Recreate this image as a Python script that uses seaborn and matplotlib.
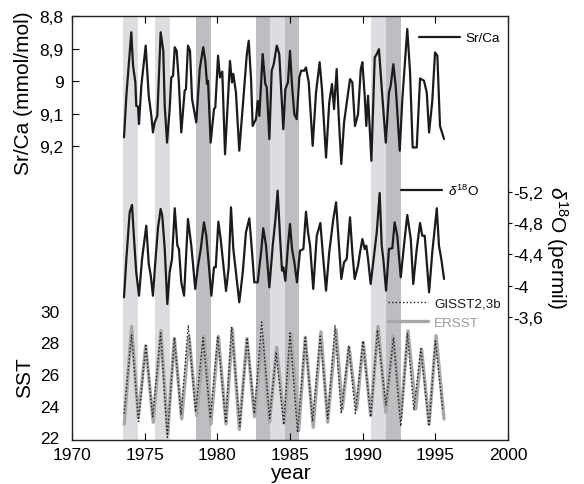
import numpy as np
import pandas as pd
import seaborn as sns
import matplotlib.pyplot as plt

# Sr/Ca record (mmol/mol)
srca_year = [1973.58, 1973.74, 1974.08, 1974.20, 1974.36, 1974.42, 1974.54, 1974.61, 1974.77, 1975.07,
             1975.28, 1975.46, 1975.57, 1975.69, 1975.87, 1976.10, 1976.28, 1976.38, 1976.54, 1976.72,
             1976.83, 1976.95, 1977.07, 1977.20, 1977.34, 1977.52, 1977.75, 1977.84, 1977.98, 1978.12,
             1978.26, 1978.55, 1978.79, 1979.03, 1979.17, 1979.29, 1979.36, 1979.54, 1979.77, 1979.86,
             1980.05, 1980.18, 1980.34, 1980.53, 1980.87, 1981.01, 1981.10, 1981.28, 1981.51, 1981.79,
             1982.02, 1982.16, 1982.32, 1982.43, 1982.66, 1982.78, 1982.89, 1983.12, 1983.30, 1983.40,
             1983.58, 1983.74, 1983.88, 1984.09, 1984.26, 1984.54, 1984.68, 1984.86, 1985.00, 1985.14,
             1985.30, 1985.46, 1985.64, 1985.76, 1985.98, 1986.10, 1986.29, 1986.56, 1986.79, 1987.04,
             1987.20, 1987.48, 1987.70, 1987.89, 1988.03, 1988.21, 1988.35, 1988.53, 1988.72, 1988.94,
             1989.13, 1989.29, 1989.47, 1989.68, 1989.87, 1989.98, 1990.14, 1990.25, 1990.37, 1990.60,
             1990.83, 1990.97, 1991.12, 1991.35, 1991.59, 1991.81, 1991.93, 1992.11, 1992.27, 1992.55,
             1992.73, 1993.07, 1993.26, 1993.44, 1993.72, 1993.95, 1994.22, 1994.41, 1994.57, 1994.79,
             1994.98, 1995.14, 1995.32, 1995.60]
srca = [9.173, 9.045, 8.850, 8.953, 9.004, 9.076, 9.078, 9.132, 9.014, 8.891,
        9.045, 9.107, 9.158, 9.127, 9.107, 8.850, 8.907, 9.076, 9.189, 9.086,
        8.989, 8.984, 8.896, 8.907, 8.994, 9.158, 9.030, 9.025, 8.891, 8.907,
        9.055, 9.127, 8.963, 8.896, 8.938, 9.009, 8.999, 9.189, 9.086, 9.081,
        8.922, 8.989, 8.971, 9.225, 8.938, 9.004, 8.978, 9.035, 9.214, 9.055,
        8.922, 8.876, 8.994, 9.138, 9.117, 9.061, 9.107, 8.917, 9.009, 9.019,
        9.178, 8.968, 8.948, 8.891, 8.917, 9.148, 9.025, 9.004, 8.907, 9.014,
        9.102, 9.117, 8.989, 8.968, 8.968, 8.958, 9.004, 9.199, 9.035, 8.942,
        9.025, 9.235, 9.066, 9.009, 9.086, 8.963, 9.107, 9.255, 9.127, 9.055,
        8.994, 9.004, 9.138, 9.102, 8.963, 8.942, 9.045, 9.138, 9.045, 9.245,
        8.927, 8.917, 8.902, 9.045, 9.189, 9.035, 9.014, 8.948, 9.014, 9.214,
        9.055, 8.840, 8.973, 9.204, 9.204, 8.992, 8.999, 9.035, 9.158, 9.061,
        8.912, 8.922, 9.138, 9.178]

# d18O record (permil)
d18o_year = [1973.58, 1973.74, 1973.97, 1974.13, 1974.27, 1974.42, 1974.61, 1974.82, 1975.11, 1975.28,
             1975.42, 1975.57, 1975.73, 1975.92, 1976.10, 1976.21, 1976.38, 1976.56, 1976.72, 1976.88,
             1977.07, 1977.25, 1977.36, 1977.52, 1977.71, 1977.98, 1978.21, 1978.48, 1978.67, 1978.86,
             1979.08, 1979.24, 1979.36, 1979.59, 1979.77, 1979.89, 1980.07, 1980.23, 1980.60, 1980.78,
             1980.94, 1981.10, 1981.28, 1981.51, 1981.75, 1981.97, 1982.20, 1982.39, 1982.54, 1982.78,
             1982.89, 1983.01, 1983.16, 1983.35, 1983.58, 1983.81, 1983.99, 1984.15, 1984.31, 1984.45,
             1984.54, 1984.68, 1984.86, 1985.00, 1985.14, 1985.30, 1985.48, 1985.69, 1985.92, 1986.10,
             1986.24, 1986.38, 1986.60, 1986.84, 1987.09, 1987.25, 1987.48, 1987.70, 1987.98, 1988.17,
             1988.37, 1988.53, 1988.72, 1988.90, 1989.13, 1989.29, 1989.45, 1989.68, 1989.82, 1989.98,
             1990.14, 1990.25, 1990.37, 1990.55, 1990.78, 1990.97, 1991.17, 1991.31, 1991.42, 1991.61,
             1991.81, 1992.04, 1992.20, 1992.38, 1992.62, 1992.84, 1993.07, 1993.31, 1993.48, 1993.72,
             1993.95, 1994.10, 1994.27, 1994.57, 1994.79, 1995.10, 1995.25, 1995.41, 1995.60]
d18o = [-3.855, -4.343, -4.938, -5.031, -4.597, -4.173, -3.875, -4.343, -4.767, -4.279,
        -4.130, -3.875, -4.301, -4.746, -4.980, -4.894, -4.470, -3.769, -4.173, -4.343,
        -4.989, -4.512, -4.470, -4.046, -3.875, -4.852, -4.512, -3.961, -4.257, -4.470,
        -4.810, -4.639, -4.385, -3.875, -4.237, -4.237, -4.818, -4.597, -3.935, -4.237,
        -5.001, -4.470, -4.173, -3.791, -4.173, -4.683, -4.861, -4.428, -4.046, -4.046,
        -4.237, -4.428, -4.734, -4.512, -3.982, -4.512, -4.831, -5.213, -4.639, -4.194,
        -4.237, -4.066, -4.512, -4.789, -4.470, -4.301, -4.046, -4.448, -4.470, -4.945,
        -4.683, -4.512, -3.961, -4.639, -4.801, -4.428, -3.939, -4.428, -4.852, -5.065,
        -4.512, -4.088, -4.301, -4.343, -4.874, -4.428, -4.088, -4.257, -4.428, -4.597,
        -4.470, -4.512, -4.343, -4.024, -4.385, -4.683, -5.183, -4.512, -4.343, -3.939,
        -4.470, -4.480, -4.810, -4.639, -4.110, -4.512, -4.903, -4.597, -4.024, -4.470,
        -4.801, -4.639, -4.639, -3.918, -4.428, -4.989, -4.512, -4.343, -4.088]

# SST (deg C), ERSST and GISST2.3b
ersst_year = [1973.60, 1974.10, 1974.56, 1975.07, 1975.59, 1976.12, 1976.58, 1977.04, 1977.55, 1978.05,
              1978.58, 1979.08, 1979.56, 1980.07, 1980.60, 1981.03, 1981.51, 1982.04, 1982.56, 1983.10,
              1983.59, 1984.08, 1984.61, 1985.06, 1985.60, 1986.05, 1986.60, 1987.13, 1987.59, 1988.17,
              1988.60, 1989.06, 1989.59, 1990.04, 1990.55, 1991.06, 1991.59, 1992.11, 1992.62, 1993.12,
              1993.65, 1994.05, 1994.57, 1995.05, 1995.60]
ersst = [22.84, 29.03, 23.27, 27.80, 22.95, 28.75, 22.21, 28.27, 23.16, 28.39,
         23.37, 28.39, 22.84, 28.39, 22.84, 28.87, 22.50, 28.25, 23.30, 28.40,
         22.95, 27.70, 22.90, 28.54, 22.42, 28.33, 22.63, 28.68, 22.95, 28.80,
         23.79, 27.70, 23.79, 28.01, 23.37, 29.03, 23.58, 28.43, 23.16, 28.75,
         23.79, 27.59, 22.84, 28.43, 23.16]
gisst_year = [1973.58, 1974.10, 1974.58, 1975.08, 1975.55, 1976.10, 1976.56, 1977.05, 1977.50, 1978.00,
              1978.50, 1979.02, 1979.52, 1980.03, 1980.58, 1980.98, 1981.55, 1982.05, 1982.55, 1983.05,
              1983.60, 1984.05, 1984.57, 1985.00, 1985.52, 1986.05, 1986.55, 1987.08, 1987.60, 1988.10,
              1988.52, 1989.05, 1989.50, 1990.02, 1990.56, 1991.02, 1991.60, 1992.12, 1992.62, 1993.08,
              1993.52, 1994.00, 1994.57, 1995.00, 1995.50]
gisst = [23.5, 28.5, 23.0, 27.8, 23.3, 28.6, 22.0, 28.3, 23.4, 29.1,
         23.6, 28.3, 23.2, 28.4, 22.9, 29.0, 22.7, 28.3, 23.5, 29.3,
         23.2, 27.4, 22.8, 28.6, 22.3, 28.3, 23.0, 28.4, 23.2, 29.1,
         23.5, 27.8, 23.5, 28.1, 23.3, 28.8, 24.0, 28.3, 22.7, 28.6,
         23.7, 27.6, 22.7, 28.1, 23.8]

# shaded periods
light_start = [1973.5, 1975.7, 1983.6, 1990.6]
light_end = [1974.55, 1976.75, 1984.65, 1991.6]
dark_start = [1978.5, 1982.65, 1984.65, 1991.6]
dark_end = [1979.55, 1983.6, 1985.6, 1992.65]

srca_ticks = [8.8, 8.9, 9.0, 9.1, 9.2]
d18o_ticks = [-5.2, -4.8, -4.4, -4.0, -3.6]
sst_ticks = [22, 24, 26, 28, 30]


def comma(v):
    s = f"{v:g}"
    return s.replace(".", ",")


sns.set_style("ticks")
plt.rcParams["font.family"] = ["Liberation Sans", "DejaVu Sans"]
plt.rcParams["mathtext.fontset"] = "custom"
plt.rcParams["mathtext.rm"] = "Liberation Sans"
plt.rcParams["mathtext.it"] = "Liberation Sans:italic"
plt.rcParams["text.color"] = "black"
plt.rcParams["axes.labelcolor"] = "black"
plt.rcParams["xtick.color"] = "black"
plt.rcParams["ytick.color"] = "black"

black = "#1b1b1b"
grey = "#a8a8a8"

fig = plt.figure(figsize=(5.84, 4.85), dpi=100)
ax1 = fig.add_axes([72 / 584, 44 / 485, 436 / 584, 424 / 485])
ax2 = ax1.twinx()
ax3 = ax1.twinx()

for a, b in zip(light_start, light_end):
    ax1.axvspan(a, b, color="#dcdde0", lw=0, zorder=0)
for a, b in zip(dark_start, dark_end):
    ax1.axvspan(a, b, color="#bdbec2", lw=0, zorder=0)

sns.lineplot(x=srca_year, y=srca, ax=ax1, color=black, lw=1.6, label="Sr/Ca")
sns.lineplot(x=d18o_year, y=d18o, ax=ax2, color=black, lw=1.6, label=r"$\delta^{18}$O")
sns.lineplot(x=ersst_year, y=ersst, ax=ax3, color=grey, lw=2.4, label="ERSST")
sns.lineplot(x=gisst_year, y=gisst, ax=ax3, color=black, lw=1.0, ls=(0, (1, 1.6)), label="GISST2,3b")

ax1.set_xlim(1970, 2000)
ax1.set_ylim(10.103, 8.8)
ax2.set_ylim(-2.037, -7.438)
ax3.set_ylim(21.83, 48.66)

ax1.set_xticks([1970, 1975, 1980, 1985, 1990, 1995, 2000])
ax1.tick_params(axis="x", direction="in", top=True, length=5, width=0.8, labelsize=12.5, pad=5)
ax1.set_yticks(srca_ticks, [comma(v) for v in srca_ticks])
ax1.tick_params(axis="y", direction="in", length=5, width=0.8, labelsize=12.5, pad=6)

ax2.set_yticks(d18o_ticks, [comma(v) for v in d18o_ticks])
ax2.tick_params(axis="y", direction="out", length=3, width=0.8, labelsize=12.5, pad=1)

ax3.yaxis.tick_left()
ax3.yaxis.set_label_position("left")
ax3.set_yticks(sst_ticks, [str(v) for v in sst_ticks])
ax3.tick_params(axis="y", length=0, labelsize=12.5, pad=9)

for a in (ax2, ax3):
    for s in a.spines.values():
        s.set_visible(False)
for s in ax1.spines.values():
    s.set_linewidth(1.0)
    s.set_color("#222222")

ax1.set_xlabel("year", fontsize=15, va="center")
ax1.xaxis.set_label_coords(0.5, -0.076)
ax1.set_ylabel("Sr/Ca (mmol/mol)", fontsize=15, va="center")
ax1.yaxis.set_label_coords(-0.112, 0.82)
ax3.set_ylabel("SST", fontsize=15, va="center")
ax3.yaxis.set_label_coords(-0.108, 0.149)
ax2.set_ylabel(r"$\delta^{18}$O (permil)", fontsize=15, rotation=270, va="center")
ax2.yaxis.set_label_coords(1.112, 0.455)

leg_kw = dict(frameon=False, fontsize=9.7, handlelength=3.0, handletextpad=0.45,
              borderpad=0, borderaxespad=0)
ax1.legend(loc="center right", bbox_to_anchor=((500 - 72) / 436, (441 - 39) / 424), **leg_kw)
ax2.legend(loc="center right", bbox_to_anchor=((479 - 72) / 436, (441 - 191) / 424), **leg_kw)
h, l = ax3.get_legend_handles_labels()
ax3.legend(h[::-1], l[::-1], loc="center right", labelspacing=0.55,
           bbox_to_anchor=((501 - 72) / 436, (441 - 314) / 424),
           labelcolor=[black, "#9c9c9c"], **leg_kw)

fig.savefig("out.png", dpi=100)
